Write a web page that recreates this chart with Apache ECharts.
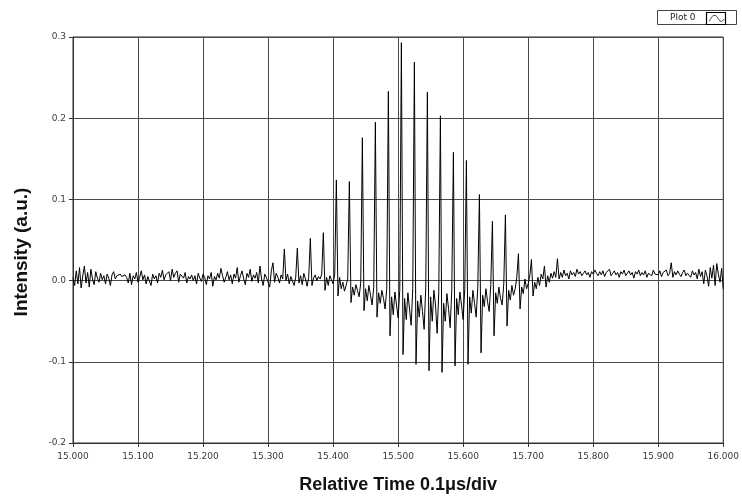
<!DOCTYPE html>
<html>
<head>
<meta charset="utf-8">
<script src="https://cdn.jsdelivr.net/npm/echarts@6/dist/echarts.min.js"></script>
<style>
html,body{margin:0;padding:0;background:#fff;}
#chart{width:742px;height:504px;}
</style>
</head>
<body>
<div id="chart"></div>
<script>
// Time base of the sampled trace
var timeStart = 15.0;
var timeStep = 0.0025;

// Sampled intensity values (a.u.), one per time step
var intensity = [
 0.004,-0.006,0.012,-0.004,0.016,-0.009,0.006,0.018,-0.003,0.010,-0.008,0.014,0.002,-0.005,0.011,0.003,-0.002,0.009,0.001,0.006,
 -0.004,0.008,0.003,-0.006,0.007,0.011,0.002,0.006,0.004,0.008,0.005,0.003,0.007,0.004,-0.003,0.009,-0.005,0.006,0.002,0.010,
 -0.002,0.004,0.012,0.001,0.007,-0.004,0.005,0.003,-0.006,0.008,0.002,0.006,-0.003,0.009,0.004,0.013,0.001,0.007,0.005,0.011,
 0.000,0.014,0.004,0.009,0.012,-0.002,0.008,0.006,0.003,0.010,-0.003,0.005,0.002,0.007,0.000,0.006,-0.004,0.009,0.003,-0.001,
 0.008,0.004,-0.005,0.006,0.002,0.010,-0.007,0.005,0.001,0.009,0.003,0.015,0.006,-0.002,0.004,0.011,0.001,0.007,-0.004,0.008,
 0.003,0.016,-0.002,0.006,0.012,0.002,-0.005,0.009,0.004,0.014,-0.001,0.007,0.003,0.010,-0.003,0.018,0.002,-0.006,0.008,0.004,
 0.006,-0.008,0.012,0.022,-0.002,0.009,0.004,-0.003,0.007,0.002,0.039,0.000,0.008,-0.004,0.005,0.003,-0.006,0.004,0.040,-0.003,
 0.006,-0.005,0.009,0.002,-0.007,0.004,0.052,-0.006,0.003,0.007,0.000,0.005,0.002,0.008,0.059,-0.012,0.004,-0.006,0.006,0.001,
 -0.004,0.008,0.124,-0.019,0.004,-0.010,-0.002,-0.013,-0.006,0.002,0.122,-0.027,-0.008,-0.018,-0.005,-0.012,-0.020,-0.003,0.176,-0.037,
 -0.010,-0.025,-0.006,-0.018,-0.030,-0.008,0.195,-0.045,-0.015,-0.028,-0.012,-0.022,-0.035,-0.010,0.233,-0.068,-0.020,-0.042,-0.014,-0.030,
 -0.046,-0.012,0.293,-0.091,-0.022,-0.048,-0.015,-0.035,-0.055,-0.010,0.269,-0.103,-0.025,-0.045,-0.018,-0.038,-0.060,-0.008,0.232,-0.111,
 -0.020,-0.050,-0.012,-0.030,-0.065,-0.015,0.203,-0.113,-0.028,-0.050,-0.016,-0.034,-0.058,-0.012,0.158,-0.105,-0.022,-0.042,-0.014,-0.030,
 -0.048,-0.010,0.148,-0.103,-0.020,-0.040,-0.012,-0.028,-0.045,-0.008,0.106,-0.089,-0.018,-0.032,-0.010,-0.026,-0.038,-0.005,0.073,-0.068,
 -0.015,-0.028,-0.008,-0.022,-0.030,-0.004,0.081,-0.056,-0.012,-0.024,-0.006,-0.018,-0.010,0.004,0.033,-0.035,-0.008,-0.016,0.002,-0.010,
 -0.004,0.006,0.026,-0.019,-0.002,-0.010,0.004,-0.006,0.008,0.002,0.018,-0.008,0.006,-0.002,0.009,0.003,0.011,0.004,0.027,0.002,
 0.010,0.004,0.013,0.006,0.009,0.002,0.012,0.007,0.010,0.005,0.014,0.008,0.011,0.006,0.009,0.012,0.007,0.010,0.004,0.011,
 0.008,0.013,0.009,0.006,0.011,0.007,0.012,0.005,0.010,0.008,0.014,0.006,0.009,0.012,0.007,0.010,0.004,0.011,0.008,0.013,
 0.006,0.009,0.012,0.007,0.010,0.003,0.011,0.008,0.013,0.006,0.010,0.007,0.012,0.004,0.009,0.011,0.006,0.013,0.008,0.010,
 0.007,0.012,0.005,0.010,0.008,0.013,0.006,0.009,0.022,0.004,0.011,0.007,0.012,0.008,0.005,0.010,0.013,0.006,0.009,0.011,
 0.004,0.012,0.007,0.010,0.002,0.014,0.005,0.011,-0.004,0.013,0.006,-0.007,0.016,0.003,0.019,-0.006,0.021,0.008,-0.002,0.015,-0.010
];

var xTicks = {min: 15.0, max: 16.0, interval: 0.1};
var yTicks = {min: -0.2, max: 0.3, interval: 0.1};
var seriesName = 'Plot 0';
var xTitle = 'Relative Time 0.1\u03bcs/div';
var yTitle = 'Intensity (a.u.)';

var seriesData = intensity.map(function (v, i) {
  return [timeStart + i * timeStep, v];
});

var chart = echarts.init(document.getElementById('chart'), null, {renderer: 'canvas'});
var labelFont = 'DejaVu Sans';
var titleFont = 'Liberation Sans';

chart.setOption({
  animation: false,
  backgroundColor: '#ffffff',
  grid: {
    left: 73, right: 16, top: 37, bottom: 61,
    show: true, borderColor: '#333', borderWidth: 1, backgroundColor: 'transparent'
  },
  xAxis: {
    type: 'value',
    min: xTicks.min, max: xTicks.max, interval: xTicks.interval,
    name: xTitle,
    nameLocation: 'middle',
    nameGap: 33,
    nameTextStyle: {fontFamily: titleFont, fontWeight: 'bold', fontSize: 18, color: '#111'},
    axisLine: {show: true, onZero: false, lineStyle: {color: '#333', width: 1}},
    axisTick: {show: true, length: 4, inside: false, lineStyle: {color: '#333'}},
    axisLabel: {
      fontFamily: labelFont, fontSize: 9, color: '#3a3a3a', margin: 9,
      formatter: function (v) { return v.toFixed(3); }
    },
    splitLine: {show: true, lineStyle: {color: '#4a4a4a', width: 1}}
  },
  yAxis: {
    type: 'value',
    min: yTicks.min, max: yTicks.max, interval: yTicks.interval,
    name: yTitle,
    nameLocation: 'middle',
    nameGap: 42,
    nameRotate: 90,
    nameTextStyle: {fontFamily: titleFont, fontWeight: 'bold', fontSize: 19, color: '#111', padding: [0, 24, 0, 0]},
    axisLine: {show: true, onZero: false, lineStyle: {color: '#333', width: 1}},
    axisTick: {show: true, length: 4, inside: false, lineStyle: {color: '#333'}},
    axisLabel: {
      fontFamily: labelFont, fontSize: 9, color: '#3a3a3a', margin: 7,
      formatter: function (v) { return Math.abs(v) < 1e-9 ? '0.0' : v.toFixed(1); }
    },
    splitLine: {show: true, lineStyle: {color: '#4a4a4a', width: 1}}
  },
  series: [{
    name: seriesName,
    type: 'line',
    data: seriesData,
    showSymbol: false,
    symbol: 'none',
    sampling: null,
    lineStyle: {color: '#000', width: 1},
    z: 3
  }],
  graphic: [
    {type: 'rect', shape: {x: 657.5, y: 10.5, width: 79, height: 14},
     style: {fill: '#fff', stroke: '#444', lineWidth: 1}},
    {type: 'text', x: 670, y: 17.5,
     style: {text: seriesName, font: '9px "DejaVu Sans"', fill: '#222', verticalAlign: 'middle', textAlign: 'left'}},
    {type: 'rect', shape: {x: 706.5, y: 12.5, width: 19, height: 12},
     style: {fill: '#fff', stroke: '#000', lineWidth: 1.2}},
    {type: 'polyline', shape: {points: [[709, 21], [713, 15.5], [716, 15.5], [720, 21], [722, 21.5], [724, 19]]},
     style: {fill: null, stroke: '#555', lineWidth: 1}}
  ]
});
</script>
</body>
</html>
